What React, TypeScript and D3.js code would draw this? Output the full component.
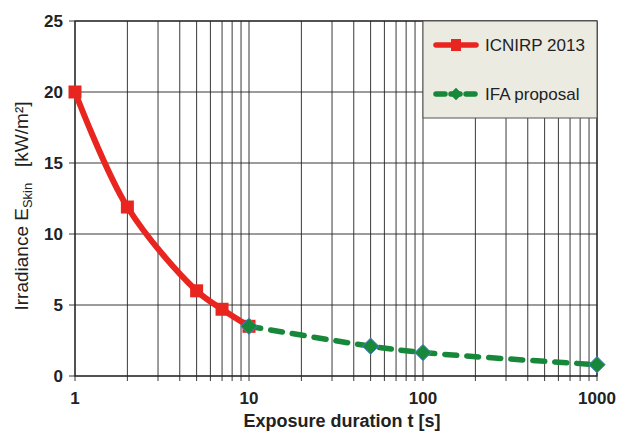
import { useEffect, useRef } from "react";
import * as d3 from "d3";

const icnirpT = [1, 2, 5, 7, 10];
const icnirpE = [20, 11.9, 6, 4.7, 3.5];
const ifaT = [10, 50, 100, 1000];
const ifaE = [3.5, 2.1, 1.65, 0.8];
const xTickLabels = [1, 10, 100, 1000];
const yTicks = [0, 5, 10, 15, 20, 25];
const legendLabels = ["ICNIRP 2013", "IFA proposal"];

const FONT = "Liberation Sans, Arial, sans-serif";

export default function App() {
  const ref = useRef<SVGSVGElement | null>(null);

  useEffect(() => {
    document.body.style.margin = "0";
    if (!ref.current) return;
    const svg = d3.select(ref.current);
    svg.selectAll("*").remove();

    const width = 619;
    const height = 432;
    const margin = { top: 21, right: 22, bottom: 56, left: 75 };

    const x = d3
      .scaleLog()
      .domain([1, 1000])
      .range([margin.left, width - margin.right]);
    const y = d3
      .scaleLinear()
      .domain([0, 25])
      .range([height - margin.bottom, margin.top]);

    svg.append("rect").attr("width", width).attr("height", height).attr("fill", "#fff");

    // minor log grid
    const logTicks: number[] = [];
    [1, 10, 100].forEach((d) => {
      for (let k = 1; k <= 9; k++) logTicks.push(d * k);
    });
    logTicks.push(1000);

    svg
      .append("g")
      .selectAll("line")
      .data(logTicks)
      .join("line")
      .attr("x1", (d) => x(d))
      .attr("x2", (d) => x(d))
      .attr("y1", y(25))
      .attr("y2", y(0) + 5)
      .attr("stroke", "#222")
      .attr("stroke-width", 0.9);

    svg
      .append("g")
      .selectAll("line")
      .data(yTicks)
      .join("line")
      .attr("x1", x(1) - 6)
      .attr("x2", x(1000))
      .attr("y1", (d) => y(d))
      .attr("y2", (d) => y(d))
      .attr("stroke", "#222")
      .attr("stroke-width", 0.9);

    // axes border
    svg
      .append("rect")
      .attr("x", x(1))
      .attr("y", y(25))
      .attr("width", x(1000) - x(1))
      .attr("height", y(0) - y(25))
      .attr("fill", "none")
      .attr("stroke", "#222")
      .attr("stroke-width", 1.2);

    // tick labels
    svg
      .append("g")
      .selectAll("text")
      .data(yTicks)
      .join("text")
      .attr("x", x(1) - 12)
      .attr("y", (d) => y(d) + 6)
      .attr("text-anchor", "end")
      .attr("font-family", FONT)
      .attr("font-weight", "bold")
      .attr("font-size", 17)
      .attr("fill", "#222")
      .text((d) => d);

    svg
      .append("g")
      .selectAll("text")
      .data(xTickLabels)
      .join("text")
      .attr("x", (d) => x(d))
      .attr("y", y(0) + 28)
      .attr("text-anchor", "middle")
      .attr("font-family", FONT)
      .attr("font-weight", "bold")
      .attr("font-size", 17)
      .attr("fill", "#222")
      .text((d) => d);

    svg
      .append("text")
      .attr("x", 342)
      .attr("y", height - 5)
      .attr("text-anchor", "middle")
      .attr("font-family", FONT)
      .attr("font-weight", "bold")
      .attr("font-size", 18)
      .attr("fill", "#222")
      .text("Exposure duration t [s]");

    const yl = svg
      .append("text")
      .attr("transform", `translate(28,206) rotate(-90)`)
      .attr("text-anchor", "middle")
      .attr("font-family", FONT)
      .attr("font-size", 19)
      .attr("fill", "#222");
    yl.append("tspan").text("Irradiance E");
    yl.append("tspan").attr("font-size", 13).attr("dy", 4).text("Skin");
    yl.append("tspan").attr("dy", -4).text("\u00a0\u00a0 [kW/m²]");

    const red = "#e8261f";
    const green = "#17873a";
    const line = d3
      .line<[number, number]>()
      .x((d) => x(d[0]))
      .y((d) => y(d[1]))
      .curve(d3.curveCatmullRom.alpha(0.5));

    const redData = icnirpT.map((t, i) => [t, icnirpE[i]] as [number, number]);
    const greenData = ifaT.map((t, i) => [t, ifaE[i]] as [number, number]);

    svg
      .append("path")
      .datum(redData)
      .attr("d", line)
      .attr("fill", "none")
      .attr("stroke", red)
      .attr("stroke-width", 6)
      .attr("stroke-linejoin", "round");

    svg
      .append("g")
      .selectAll("rect")
      .data(redData)
      .join("rect")
      .attr("x", (d) => x(d[0]) - 6.5)
      .attr("y", (d) => y(d[1]) - 6.5)
      .attr("width", 13)
      .attr("height", 13)
      .attr("fill", red);

    svg
      .append("path")
      .datum(greenData)
      .attr("d", line)
      .attr("fill", "none")
      .attr("stroke", green)
      .attr("stroke-width", 5.5)
      .attr("stroke-linecap", "round")
      .attr("stroke-dasharray", "12 10");

    const diamond = d3.symbol().type(d3.symbolDiamond2).size(170);
    svg
      .append("g")
      .selectAll("path")
      .data(greenData)
      .join("path")
      .attr("d", diamond)
      .attr("transform", (d) => `translate(${x(d[0])},${y(d[1])})`)
      .attr("fill", green)
      .attr("stroke", "#4a7fd0")
      .attr("stroke-width", 1);

    // legend
    const lg = svg.append("g");
    lg.append("rect")
      .attr("x", 423)
      .attr("y", y(25))
      .attr("width", x(1000) - 423)
      .attr("height", 97)
      .attr("fill", "#ecebe2")
      .attr("stroke", "#555")
      .attr("stroke-width", 1);

    const legendRows = [
      { label: legendLabels[0], color: red, dash: null, cy: 45 },
      { label: legendLabels[1], color: green, dash: "9 6", cy: 94 },
    ];
    legendRows.forEach((r, i) => {
      lg.append("line")
        .attr("x1", 436)
        .attr("x2", 476)
        .attr("y1", r.cy)
        .attr("y2", r.cy)
        .attr("stroke", r.color)
        .attr("stroke-width", 5.5)
        .attr("stroke-linecap", "round")
        .attr("stroke-dasharray", r.dash);
      if (i === 0) {
        lg.append("rect")
          .attr("x", 451)
          .attr("y", r.cy - 6)
          .attr("width", 10)
          .attr("height", 12)
          .attr("fill", red);
      } else {
        lg.append("path")
          .attr("d", d3.symbol().type(d3.symbolDiamond2).size(100)())
          .attr("transform", `translate(456,${r.cy})`)
          .attr("fill", green);
      }
      lg.append("text")
        .attr("x", 485)
        .attr("y", r.cy + 6)
        .attr("font-family", FONT)
        .attr("font-size", 17)
        .attr("fill", "#222")
        .text(r.label);
    });
  }, []);

  return <svg ref={ref} width={619} height={432} style={{ display: "block" }} />;
}
